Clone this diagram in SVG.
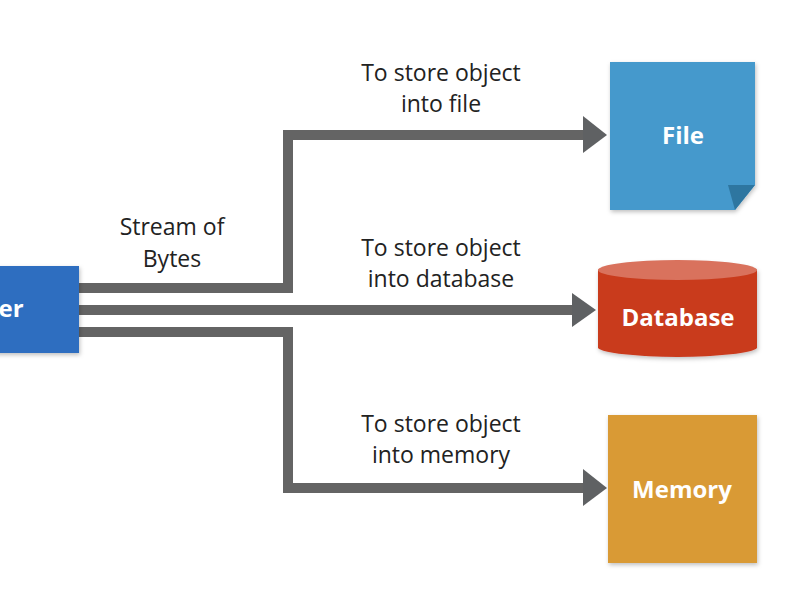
<svg xmlns="http://www.w3.org/2000/svg" width="800" height="600" viewBox="0 0 800 600">
  <defs>
    <style>
      .lbl { font-family: "Open Sans", "Noto Sans", "DejaVu Sans", sans-serif; font-size: 23px; fill: #222; text-anchor: middle; }
      .nt { font-family: "Open Sans", "Noto Sans", "DejaVu Sans", sans-serif; font-size: 24px; font-weight: bold; fill: #ffffff; text-anchor: middle; }
      .wire { fill: none; stroke: #646464; stroke-width: 10; stroke-linejoin: miter; }
      .head { fill: #5f6163; }
    </style>
    <filter id="sh" x="-10%" y="-10%" width="130%" height="130%">
      <feDropShadow dx="1" dy="2" stdDeviation="2" flood-color="#000" flood-opacity="0.25"/>
    </filter>
  </defs>
  <rect width="800" height="600" fill="#ffffff"/>

  <g id="connectors">
    <path class="wire" d="M79,288 H288 V135 H585"/>
    <path class="head" d="M583,116 L607,135 L583,153 Z"/>
    <path class="wire" d="M79,310 H574"/>
    <path class="head" d="M572,293 L596,310 L572,327 Z"/>
    <path class="wire" d="M79,332 H288 V488 H585"/>
    <path class="head" d="M583,469 L607,488 L583,506 Z"/>
  </g>

  <g id="labels">
    <text class="lbl" x="172" y="235">Stream of</text>
    <text class="lbl" x="172" y="267">Bytes</text>
    <text class="lbl" x="441" y="81">To store object</text>
    <text class="lbl" x="441" y="112">into file</text>
    <text class="lbl" x="441" y="256">To store object</text>
    <text class="lbl" x="441" y="287">into database</text>
    <text class="lbl" x="441" y="432">To store object</text>
    <text class="lbl" x="441" y="463">into memory</text>
  </g>

  <g id="serializer">
    <rect x="-10" y="266" width="89" height="87" fill="#2d6ec0" filter="url(#sh)"/>
    <text class="nt" x="11" y="317">er</text>
  </g>

  <g id="file">
    <path d="M610,62 H755 V185 L735,210 H610 Z" fill="#4499cc" filter="url(#sh)"/>
    <path d="M728,185 H755 L735,210 Z" fill="#2e76a0"/>
    <text class="nt" x="683" y="144">File</text>
  </g>

  <g id="database">
    <path d="M598,270 A80,10 0 0 1 757,270 V348 A80,10 0 0 1 598,348 Z" fill="#c93a1f" filter="url(#sh)"/>
    <ellipse cx="677.5" cy="270" rx="79.5" ry="10" fill="#d9725d"/>
    <text class="nt" x="678" y="326">Database</text>
  </g>

  <g id="memory">
    <rect x="608" y="415" width="149" height="148" fill="#d99a36" filter="url(#sh)"/>
    <text class="nt" x="682" y="498">Memory</text>
  </g>
</svg>
